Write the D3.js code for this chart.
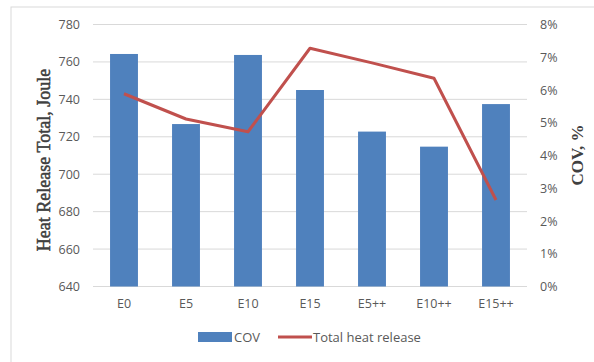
<!DOCTYPE html>
<html>
<head>
<meta charset="utf-8">
<script src="https://cdn.jsdelivr.net/npm/d3@7"></script>
<style>
  html, body { margin: 0; padding: 0; background: #fff; }
  svg { display: block; }
</style>
</head>
<body>
<svg id="chart" width="594" height="362"></svg>
<script>
// Fuel blends on the x axis
const categories = ["E0", "E5", "E10", "E15", "E5++", "E10++", "E15++"];
// Coefficient of variation (%), drawn as bars on the right axis
const covValues = [7.1, 4.96, 7.07, 6.0, 4.73, 4.27, 5.57];
// Total heat release (J), drawn as a line on the left axis
const heatRelease = [743, 729.5, 722.7, 767.3, 759.5, 751.3, 686.2];
// Tick values
const leftTicks = [640, 660, 680, 700, 720, 740, 760, 780];
const rightTicks = [0, 1, 2, 3, 4, 5, 6, 7, 8];

const svg = d3.select("#chart");
const W = 594, H = 362;
const plot = { left: 93, right: 527, top: 24.5, bottom: 286.5 };

// outer chart frame
svg.append("rect")
  .attr("x", 11).attr("y", 7)
  .attr("width", W - 11 + 5).attr("height", H - 7 + 5)
  .attr("fill", "#fff").attr("stroke", "#d9d9d9").attr("stroke-width", 1);

const x = d3.scaleBand().domain(categories)
  .range([plot.left, plot.right]).paddingInner(0.55).paddingOuter(0.275);
const yLeft = d3.scaleLinear().domain([640, 780]).range([plot.bottom, plot.top]);
const yRight = d3.scaleLinear().domain([0, 8]).range([plot.bottom, plot.top]);

// gridlines
svg.append("g").selectAll("line").data(leftTicks).join("line")
  .attr("x1", plot.left).attr("x2", plot.right)
  .attr("y1", d => yLeft(d)).attr("y2", d => yLeft(d))
  .attr("stroke", "#d9d9d9").attr("stroke-width", 1);

const tickFont = "'Open Sans', 'Liberation Sans', sans-serif";

// left axis
const leftAxis = svg.append("g")
  .attr("transform", `translate(${plot.left - 13},0)`)
  .call(d3.axisLeft(yLeft).tickValues(leftTicks).tickSize(0).tickPadding(0));
leftAxis.select(".domain").remove();
leftAxis.selectAll("text")
  .attr("fill", "#595959").style("font-family", tickFont).style("font-size", "12.5px");

// right axis
const rightAxis = svg.append("g")
  .attr("transform", `translate(${plot.right + 13},0)`)
  .call(d3.axisRight(yRight).tickValues(rightTicks).tickSize(0).tickPadding(0)
    .tickFormat(d => d + "%"));
rightAxis.select(".domain").remove();
rightAxis.selectAll("text")
  .attr("fill", "#595959").style("font-family", tickFont).style("font-size", "12.5px");

// bottom axis
const bottomAxis = svg.append("g")
  .attr("transform", `translate(0,${plot.bottom})`)
  .call(d3.axisBottom(x).tickSize(0).tickPadding(13));
bottomAxis.select(".domain").remove();
bottomAxis.selectAll("text")
  .attr("fill", "#595959").style("font-family", tickFont).style("font-size", "12.5px");

// COV bars
svg.append("g").selectAll("rect").data(covValues).join("rect")
  .attr("x", (d, i) => x(categories[i]))
  .attr("width", x.bandwidth())
  .attr("y", d => yRight(d))
  .attr("height", d => yRight(0) - yRight(d))
  .attr("fill", "#4f81bd");

// total heat release line
const line = d3.line()
  .x((d, i) => x(categories[i]) + x.bandwidth() / 2)
  .y(d => yLeft(d));
svg.append("path").datum(heatRelease)
  .attr("d", line)
  .attr("fill", "none").attr("stroke", "#c0504d")
  .attr("stroke-width", 3).attr("stroke-linejoin", "round");

// axis titles
const titleFont = "'Liberation Serif', 'Times New Roman', serif";
svg.append("text")
  .attr("transform", `translate(50,160) rotate(-90)`)
  .attr("text-anchor", "middle")
  .style("font-family", titleFont).style("font-size", "18px")
  .attr("fill", "#404040").attr("stroke", "#404040").attr("stroke-width", 0.5)
  .text("Heat Release Total, Joule");
svg.append("text")
  .attr("transform", `translate(583,155) rotate(-90)`)
  .attr("text-anchor", "middle")
  .style("font-family", titleFont).style("font-size", "17px").style("font-weight", "bold")
  .attr("fill", "#404040")
  .text("COV, %");

// legend
const legendFont = "13px";
const legend = svg.append("g");
legend.append("rect").attr("x", 198).attr("y", 332).attr("width", 34).attr("height", 10)
  .attr("fill", "#4f81bd");
legend.append("text").attr("x", 234).attr("y", 342)
  .style("font-family", tickFont).style("font-size", legendFont).attr("fill", "#595959")
  .text("COV");
legend.append("line").attr("x1", 278).attr("x2", 312).attr("y1", 337).attr("y2", 337)
  .attr("stroke", "#c0504d").attr("stroke-width", 3);
legend.append("text").attr("x", 313).attr("y", 342)
  .style("font-family", tickFont).style("font-size", legendFont).attr("fill", "#595959")
  .text("Total heat release");
</script>
</body>
</html>
